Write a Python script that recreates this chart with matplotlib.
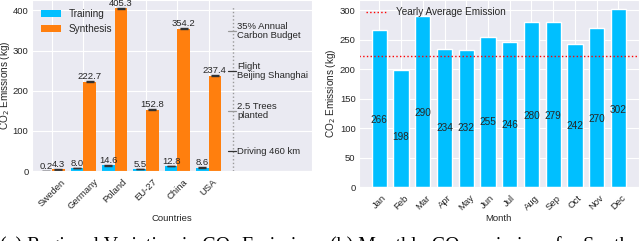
import numpy as np
import matplotlib
matplotlib.use('Agg')
import matplotlib.pyplot as plt
import seaborn as sns

# data
countries = ['Sweden', 'Germany', 'Poland', 'EU-27', 'China', 'USA']
training = [0.2, 8.0, 14.6, 5.5, 12.8, 8.6]
synthesis = [4.3, 222.7, 405.3, 152.8, 354.2, 237.4]
training_err = [0.3, 0.5, 0.8, 0.4, 0.7, 0.5]
synthesis_err = [0.5, 1.0, 1.5, 1.0, 1.5, 1.0]

ref_values = [50, 150, 250, 350]
ref_labels = ['Driving 460 km', '2.5 Trees\nplanted', 'Flight\nBeijing Shanghai', '35% Annual\nCarbon Budget']

months = ['Jan', 'Feb', 'Mar', 'Apr', 'May', 'Jun', 'Jul', 'Aug', 'Sep', 'Oct', 'Nov', 'Dec']
monthly = [266, 198, 290, 234, 232, 255, 246, 280, 279, 242, 270, 302]
yearly_avg = 222.7

sns.set_style('darkgrid')
plt.rcParams['font.family'] = ['Liberation Sans', 'DejaVu Sans']
plt.rcParams['ytick.major.size'] = 0
fs = 6.8
blue = '#00bfff'
orange = '#ff7f0e'
txt = '0.15'

fig = plt.figure(figsize=(6.4, 2.41), dpi=100)

# (a) regional variation
ax1 = fig.add_axes([0.05, 0.29, 0.4375, 0.71])
x = np.arange(len(countries))
w = 0.4
ax1.bar(x - w/2, training, w, color=blue, label='Training', edgecolor='none')
ax1.bar(x + w/2, synthesis, w, color=orange, label='Synthesis', edgecolor='none')
ax1.errorbar(x - w/2, training, yerr=training_err, fmt='none', ecolor='0.2', capsize=3, elinewidth=0.8)
ax1.errorbar(x + w/2, synthesis, yerr=synthesis_err, fmt='none', ecolor='0.2', capsize=3, elinewidth=0.8)
for xi, v, e in zip(x - w/2, training, training_err):
    ax1.text(xi, v + e, '%.1f' % v, ha='center', va='bottom', fontsize=fs, color=txt)
for xi, v, e in zip(x + w/2, synthesis, synthesis_err):
    ax1.text(xi, v + e, '%.1f' % v, ha='center', va='bottom', fontsize=fs, color=txt)

xref = 5.78
ax1.axvline(xref, ymax=0.965, color='0.6', ls=':', lw=1)
ref_colors = ['0.2', '0.6', '0.2', '0.6']
for v, lab, c in zip(ref_values, ref_labels, ref_colors):
    ax1.plot([xref - 0.16, xref + 0.1], [v, v], color=c, lw=0.9)
    ax1.text(xref + 0.13, v, lab, ha='left', va='center', fontsize=fs, color=txt, linespacing=1.0)

ax1.set_xlim(-0.64, 8.3)
ax1.set_ylim(0, 426)
ax1.set_xticks(x)
ax1.set_xticklabels(countries, rotation=45, fontsize=fs, color=txt)
ax1.set_yticks([0, 100, 200, 300, 400])
ax1.tick_params(axis='y', labelsize=fs, colors=txt, pad=2.5)
ax1.tick_params(axis='x', pad=1)
ax1.set_xlabel('Countries', fontsize=fs, color=txt, labelpad=2)
ax1.set_ylabel('CO$_2$ Emissions (kg)', fontsize=fs + 0.4, color=txt, labelpad=0.5)
ax1.legend(loc='upper left', fontsize=fs + 0.4, frameon=False, handlelength=2.0, borderaxespad=0.5)

# (b) monthly emissions
ax2 = fig.add_axes([0.561, 0.224, 0.437, 0.776])
m = np.arange(len(months))
ax2.bar(m, monthly, 0.7, color=blue)
for mi, v in zip(m, monthly):
    ax2.text(mi, v * 0.43, '%d' % v, ha='center', va='center', fontsize=fs + 0.4, color=txt)
ax2.axhline(yearly_avg, color='red', ls=':', lw=1, label='Yearly Average Emission')
ax2.set_xticks(m)
ax2.set_xticklabels(months, rotation=45, fontsize=fs, color=txt)
ax2.set_yticks([0, 50, 100, 150, 200, 250, 300])
ax2.tick_params(axis='y', labelsize=fs, colors=txt, pad=2.5)
ax2.tick_params(axis='x', pad=1)
ax2.set_xlabel('Month', fontsize=fs, color=txt, labelpad=1.5)
ax2.set_ylabel('CO$_2$ Emissions (kg)', fontsize=fs + 0.4, color=txt, labelpad=1)
ax2.legend(loc='upper left', fontsize=fs + 0.4, frameon=False, handlelength=2.2, borderaxespad=0.3)

# captions (cut by the bottom edge as in the source)
cap = dict(family=['Liberation Serif', 'DejaVu Serif'], fontsize=14.3, color='black', va='baseline')
fig.text(0.0, -0.04, '(a) Regional Variation in CO\u2082 Emissions', **cap)
fig.text(0.516, -0.04, '(b) Monthly CO\u2082 emissions for Synthesis', **cap)

fig.savefig('out.png', dpi=100)
